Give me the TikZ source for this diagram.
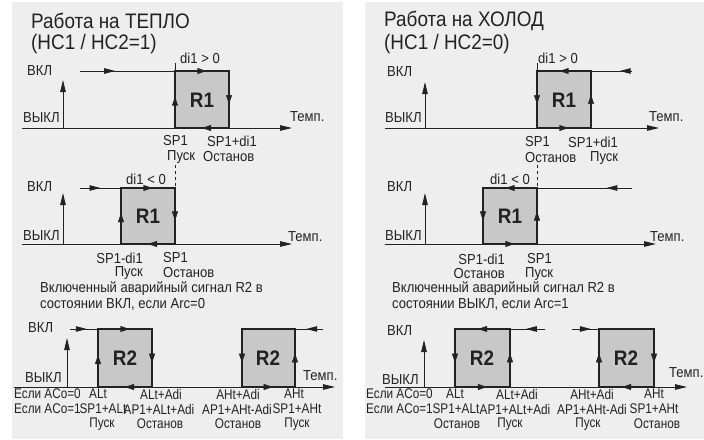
\documentclass[tikz,border=0pt]{standalone}
\usepackage{fontspec}
\setmainfont{Liberation Sans}[FakeStretch=0.9]
\newfontfamily\rowfont{Liberation Sans}[FakeStretch=0.84]
\usepackage{xcolor}
\usetikzlibrary{arrows.meta,decorations.markings}
\definecolor{panelgray}{HTML}{EEEEEE}
\definecolor{boxgray}{HTML}{C8C8C8}
\definecolor{inkgray}{HTML}{222222}

\begin{document}
\begin{tikzpicture}[x=1pt, y=-1pt,
  panel/.style={fill=panelgray, draw=none},
  hyst/.style={draw=inkgray, line width=2pt, fill=boxgray},
  level/.style={draw=inkgray, line width=0.9pt},
  axis/.style={draw=inkgray, line width=0.9pt, -{Triangle[length=12pt,width=5.5pt]}},
  tip/.style={color=inkgray, postaction={decorate},
              decoration={markings, mark=at position #1 with {\arrow{Triangle[length=11pt,width=5.5pt]}}}},
  edgetip/.style={color=inkgray, postaction={decorate},
              decoration={markings, mark=at position #1 with {\arrow{Triangle[length=9pt,width=6pt]}}}},
  lbl/.style={font=\fontsize{14.5}{16}\selectfont, text=inkgray, inner sep=0pt},
  rowlbl/.style={font=\rowfont\fontsize{14}{16}\selectfont, text=inkgray, inner sep=0pt},
  title/.style={font=\fontsize{21}{24}\selectfont, text=inkgray, inner sep=0pt, anchor=west},
  relay/.style={font=\fontsize{21}{24}\selectfont\bfseries, text=inkgray},
  ]
  \useasboundingbox (0,0) rectangle (704,439);
  \fill[white] (0,0) rectangle (704,439);
  \fill[panel] (12,2) rectangle (343,439);
  \fill[panel] (365,2) rectangle (704,439);

  \node[title] (heatT) at (31,21) {Работа на ТЕПЛО};
  \node[title] (heatS) at (31,44) {(HC1 / HC2=1)};
  \node[title] (coolT) at (384,21) {Работа на ХОЛОД};
  \node[title] (coolS) at (384,44) {(HC1 / HC2=0)};

  % heat, di1 > 0
  \draw[axis] (22,128) -- (292,128);
  \draw[axis] (63,128) -- (63,80);
  \draw[level, tip=0.37] (80,71) -- (175,71);
  \draw[level] (175,63) -- (175,71);
  \draw[hyst] (175,71) rectangle (229,128);
  \path[edgetip=0.58] (175,71) -- (229,71);
  \path[edgetip=0.58] (229,71) -- (229,128);
  \path[edgetip=0.5] (229,128) -- (175,128);
  \path[edgetip=0.55] (175,128) -- (175,71);
  \node[lbl] (h1di) at (200,58) {di1 > 0};
  \node[lbl, anchor=west] (h1on) at (27,71) {ВКЛ};
  \node[lbl, anchor=west] (h1off) at (23,118) {ВЫКЛ};
  \node[lbl, anchor=west] (h1t) at (290,117) {Темп.};
  \node[relay] (h1r) at (202,100) {R1};
  \node[lbl, anchor=west] (h1a) at (163,141) {SP1};
  \node[lbl, anchor=west] (h1b) at (207,141) {SP1+di1};
  \node[lbl, anchor=west] (h1c) at (167,157) {Пуск};
  \node[lbl, anchor=west] (h1d) at (203,157) {Останов};

  % heat, di1 < 0
  \draw[axis] (22,244) -- (292,244);
  \draw[axis] (63,244) -- (63,193);
  \draw[level, tip=0.5] (80,188) -- (121,188);
  \draw[level, dashed] (175,165) -- (175,188);
  \draw[hyst] (121,188) rectangle (175,244);
  \path[edgetip=0.58] (121,188) -- (175,188);
  \path[edgetip=0.58] (175,188) -- (175,244);
  \path[edgetip=0.5] (175,244) -- (121,244);
  \path[edgetip=0.55] (121,244) -- (121,188);
  \node[lbl] (h2di) at (146,179) {di1 < 0};
  \node[lbl, anchor=west] (h2on) at (27,187) {ВКЛ};
  \node[lbl, anchor=west] (h2off) at (23,236) {ВЫКЛ};
  \node[lbl, anchor=west] (h2t) at (288,237) {Темп.};
  \node[relay] (h2r) at (148,216) {R1};
  \node[lbl, anchor=east] (h2a) at (143,258) {SP1-di1};
  \node[lbl, anchor=east] (h2c) at (143,273) {Пуск};
  \node[lbl, anchor=west] (h2b) at (163,258) {SP1};
  \node[lbl, anchor=west] (h2d) at (163,273) {Останов};
  \node[lbl, anchor=west] (h2n1) at (40,289) {Включенный аварийный сигнал R2 в};
  \node[lbl, anchor=west] (h2n2) at (40,304) {состоянии ВКЛ, если Arc=0};

  % heat, alarm
  \draw[axis] (14,387) -- (335,387);
  \draw[axis] (67,387) -- (67,338);
  \draw[level, tip=0.6] (70,329) -- (98,329);
  \draw[level, tip=0.6] (323,329) -- (295,329);
  \draw[hyst] (98,329) rectangle (152,387);
  \path[edgetip=0.58] (98,329) -- (152,329);
  \path[edgetip=0.58] (152,329) -- (152,387);
  \path[edgetip=0.5] (152,387) -- (98,387);
  \path[edgetip=0.55] (98,387) -- (98,329);
  \draw[hyst] (242,329) rectangle (295,387);
  \path[edgetip=0.58] (242,329) -- (242,387);
  \path[edgetip=0.58] (242,387) -- (295,387);
  \path[edgetip=0.58] (295,387) -- (295,329);
  \node[lbl, anchor=west] (h3on) at (28,328) {ВКЛ};
  \node[lbl, anchor=west] (h3off) at (25,378) {ВЫКЛ};
  \node[lbl, anchor=west] (h3t) at (303,376) {Темп.};
  \node[relay] (h3r1) at (125,358) {R2};
  \node[relay] (h3r2) at (268,358) {R2};
  \node[rowlbl, anchor=west] (h3m0) at (14,394) {Если ACo=0};
  \node[rowlbl, anchor=west] (h3m1) at (14,409) {Если ACo=1};
  \node[rowlbl] (h3a1) at (98,394) {ALt};
  \node[rowlbl] (h3a2) at (103,409) {SP1+ALt};
  \node[rowlbl] (h3a3) at (102,424) {Пуск};
  \node[rowlbl] (h3b1) at (161,394) {ALt+Adi};
  \node[rowlbl] (h3b2) at (159,409) {AP1+ALt+Adi};
  \node[rowlbl] (h3b3) at (160,424) {Останов};
  \node[rowlbl] (h3c1) at (238,394) {AHt+Adi};
  \node[rowlbl] (h3c2) at (237,409) {AP1+AHt-Adi};
  \node[rowlbl] (h3c3) at (238,424) {Останов};
  \node[rowlbl] (h3d1) at (294,394) {AHt};
  \node[rowlbl] (h3d2) at (297,409) {SP1+AHt};
  \node[rowlbl] (h3d3) at (297,424) {Пуск};

  % cool, di1 > 0
  \draw[axis] (385,128) -- (659,128);
  \draw[axis] (425,128) -- (425,82);
  \draw[level, tip=0.3] (632,71) -- (591,71);
  \draw[level] (537,63) -- (537,71);
  \draw[hyst] (537,71) rectangle (591,128);
  \path[edgetip=0.58] (591,71) -- (537,71);
  \path[edgetip=0.58] (537,71) -- (537,128);
  \path[edgetip=0.58] (537,128) -- (591,128);
  \path[edgetip=0.58] (591,128) -- (591,71);
  \node[lbl] (c1di) at (558,58) {di1 > 0};
  \node[lbl, anchor=west] (c1on) at (387,72) {ВКЛ};
  \node[lbl, anchor=west] (c1off) at (385,118) {ВЫКЛ};
  \node[lbl, anchor=west] (c1t) at (649,117) {Темп.};
  \node[relay] (c1r) at (564,100) {R1};
  \node[lbl, anchor=west] (c1a) at (525,142) {SP1};
  \node[lbl, anchor=west] (c1b) at (568,142) {SP1+di1};
  \node[lbl, anchor=west] (c1c) at (525,158) {Останов};
  \node[lbl, anchor=west] (c1d) at (590,158) {Пуск};

  % cool, di1 < 0
  \draw[axis] (385,244) -- (656,244);
  \draw[axis] (425,244) -- (425,193);
  \draw[level, tip=0.27] (632,188) -- (537,188);
  \draw[level, dashed] (537,165) -- (537,188);
  \draw[hyst] (483,188) rectangle (537,244);
  \path[edgetip=0.58] (537,188) -- (483,188);
  \path[edgetip=0.58] (483,188) -- (483,244);
  \path[edgetip=0.58] (483,244) -- (537,244);
  \path[edgetip=0.58] (537,244) -- (537,188);
  \node[lbl] (c2di) at (510,179) {di1 < 0};
  \node[lbl, anchor=west] (c2on) at (387,187) {ВКЛ};
  \node[lbl, anchor=west] (c2off) at (385,236) {ВЫКЛ};
  \node[lbl, anchor=west] (c2t) at (650,237) {Темп.};
  \node[relay] (c2r) at (510,216) {R1};
  \node[lbl, anchor=east] (c2a) at (505,259) {SP1-di1};
  \node[lbl, anchor=east] (c2c) at (505,274) {Останов};
  \node[lbl, anchor=west] (c2b) at (527,259) {SP1};
  \node[lbl, anchor=west] (c2d) at (525,274) {Пуск};
  \node[lbl, anchor=west] (c2n1) at (392,289) {Включенный аварийный сигнал R2 в};
  \node[lbl, anchor=west] (c2n2) at (392,304) {состоянии ВЫКЛ, если Arc=1};

  % cool, alarm
  \draw[axis] (385,387) -- (687,387);
  \draw[axis] (424,387) -- (424,340);
  \draw[level, tip=0.55] (545,329) -- (510,329);
  \draw[level, tip=0.7] (572,329) -- (599,329);
  \draw[hyst] (455,329) rectangle (510,387);
  \path[edgetip=0.58] (510,329) -- (455,329);
  \path[edgetip=0.58] (455,329) -- (455,387);
  \path[edgetip=0.58] (455,387) -- (510,387);
  \path[edgetip=0.58] (510,387) -- (510,329);
  \draw[hyst] (599,329) rectangle (654,387);
  \path[edgetip=0.58] (599,387) -- (599,329);
  \path[edgetip=0.58] (654,387) -- (599,387);
  \path[edgetip=0.58] (654,329) -- (654,387);
  \node[lbl, anchor=west] (c3on) at (387,331) {ВКЛ};
  \node[lbl, anchor=west] (c3off) at (382,380) {ВЫКЛ};
  \node[lbl, anchor=west] (c3t) at (669,373) {Темп.};
  \node[relay] (c3r1) at (482,358) {R2};
  \node[relay] (c3r2) at (626,358) {R2};
  \node[rowlbl, anchor=west] (c3m0) at (366,394) {Если ACo=0};
  \node[rowlbl, anchor=west] (c3m1) at (366,409) {Если ACo=1};
  \node[rowlbl] (c3a1) at (455,394) {ALt};
  \node[rowlbl] (c3a2) at (456,409) {SP1+ALt};
  \node[rowlbl] (c3a3) at (457,424) {Останов};
  \node[rowlbl] (c3b1) at (517,394) {ALt+Adi};
  \node[rowlbl] (c3b2) at (515,409) {AP1+ALt+Adi};
  \node[rowlbl] (c3b3) at (510,424) {Пуск};
  \node[rowlbl] (c3c1) at (592,394) {AHt+Adi};
  \node[rowlbl] (c3c2) at (592,409) {AP1+AHt-Adi};
  \node[rowlbl] (c3c3) at (588,424) {Пуск};
  \node[rowlbl] (c3d1) at (654,394) {AHt};
  \node[rowlbl] (c3d2) at (654,409) {SP1+AHt};
  \node[rowlbl] (c3d3) at (657,424) {Останов};
\end{tikzpicture}
\end{document}
